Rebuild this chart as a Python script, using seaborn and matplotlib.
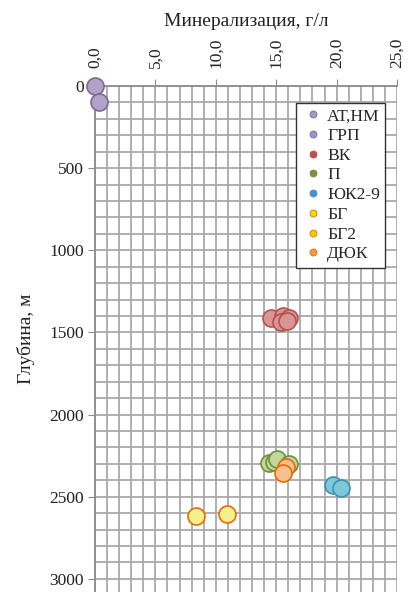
import numpy as np
import pandas as pd
import seaborn as sns
import matplotlib.pyplot as plt
from matplotlib.ticker import MultipleLocator, FuncFormatter
from matplotlib.lines import Line2D

sns.set_style('white')
plt.rcParams['font.family'] = ['Liberation Serif', 'DejaVu Serif']

# data
groups = ['АТ,НМ', 'ГРП', 'ВК', 'П', 'ЮК2-9', 'БГ', 'БГ2', 'ДЮК']
mineral = {
    'АТ,НМ': [0.0],
    'ГРП': [0.35],
    'ВК': [14.6, 15.6, 16.1, 15.4, 15.9],
    'П': [14.4, 14.8, 15.1, 16.1],
    'ЮК2-9': [19.7, 20.4],
    'БГ': [8.4],
    'БГ2': [10.9],
    'ДЮК': [15.8, 15.6],
}
depth = {
    'АТ,НМ': [0],
    'ГРП': [95],
    'ВК': [1412, 1400, 1415, 1436, 1432],
    'П': [2295, 2290, 2270, 2298],
    'ЮК2-9': [2428, 2447],
    'БГ': [2617],
    'БГ2': [2605],
    'ДЮК': [2319, 2355],
}
fills = {'АТ,НМ': '#b3a2c7', 'ГРП': '#b3a2c7', 'ВК': '#d99594', 'П': '#c3d69b',
         'ЮК2-9': '#7fc6da', 'БГ': '#f5f08c', 'БГ2': '#f5f08c', 'ДЮК': '#fac090'}
edges = {'АТ,НМ': '#7a6a96', 'ГРП': '#7a6a96', 'ВК': '#b8504d', 'П': '#6f8f3a',
         'ЮК2-9': '#3b93ae', 'БГ': '#e46c0a', 'БГ2': '#e46c0a', 'ДЮК': '#e46c0a'}
legend_fill = {'АТ,НМ': '#a597c0', 'ГРП': '#a38fd0', 'ВК': '#c0504d', 'П': '#77933c',
               'ЮК2-9': '#4f8fcf', 'БГ': '#e8e000', 'БГ2': '#f0d000', 'ДЮК': '#f79646'}

rows = []
for g in groups:
    for x, y in zip(mineral[g], depth[g]):
        rows.append((g, x, y))
df = pd.DataFrame(rows, columns=['group', 'mineral', 'depth'])

fig = plt.figure(figsize=(4.15, 5.92), dpi=100)
ax = fig.add_axes([95 / 415, 0, 302 / 415, 1 - 86 / 592])

for g in groups:
    sub = df[df['group'] == g]
    sns.scatterplot(x='mineral', y='depth', data=sub, ax=ax, s=150,
                    color=fills[g], edgecolor=edges[g], linewidth=1.2,
                    zorder=3, clip_on=False, legend=False)

ax.set_xlim(0, 25)
ax.set_ylim(3080, 0)
ax.xaxis.set_major_locator(MultipleLocator(5))
ax.xaxis.set_minor_locator(MultipleLocator(1))
ax.yaxis.set_major_locator(MultipleLocator(500))
ax.yaxis.set_minor_locator(MultipleLocator(100))
ax.xaxis.set_major_formatter(FuncFormatter(lambda v, p: f'{v:.1f}'.replace('.', ',')))
ax.xaxis.tick_top()
ax.xaxis.set_label_position('top')
ax.grid(which='both', color='#a9a9a9', linewidth=1.3)
ax.set_axisbelow(True)
ax.tick_params(axis='x', which='major', top=True, bottom=False, length=5,
               color='#8c8c8c', labelsize=12.5, labelrotation=90, pad=8)
ax.tick_params(axis='y', which='major', left=True, length=5, color='#8c8c8c',
               labelsize=12.5, pad=3)
ax.tick_params(which='minor', length=0)
for lab in ax.get_xticklabels():
    lab.set_color('#222222')
for lab in ax.get_yticklabels():
    lab.set_color('#222222')
for side in ['right', 'bottom']:
    ax.spines[side].set_visible(False)
for side in ['left', 'top']:
    ax.spines[side].set_color('#8c8c8c')
    ax.spines[side].set_linewidth(1.3)

ax.set_xlabel('Минерализация, г/л', fontsize=14, labelpad=8, color='#222222')
ax.set_ylabel('Глубина, м', fontsize=14, labelpad=10, color='#222222')

handles = [Line2D([], [], linestyle='none', marker='o', markersize=5,
                  markerfacecolor=legend_fill[g], markeredgecolor=edges[g],
                  markeredgewidth=0.6, label=g) for g in groups]
leg = ax.legend(handles=handles, loc='upper left', bbox_to_anchor=(0.667, 0.967),
                fontsize=12.6, frameon=True, fancybox=False, borderpad=0.3,
                labelspacing=0.2, handletextpad=0.15, handlelength=1.3,
                borderaxespad=0)
leg.get_frame().set_edgecolor('#333333')
leg.get_frame().set_linewidth(1.0)
leg.get_frame().set_alpha(1)

fig.savefig('out.png', dpi=100)
